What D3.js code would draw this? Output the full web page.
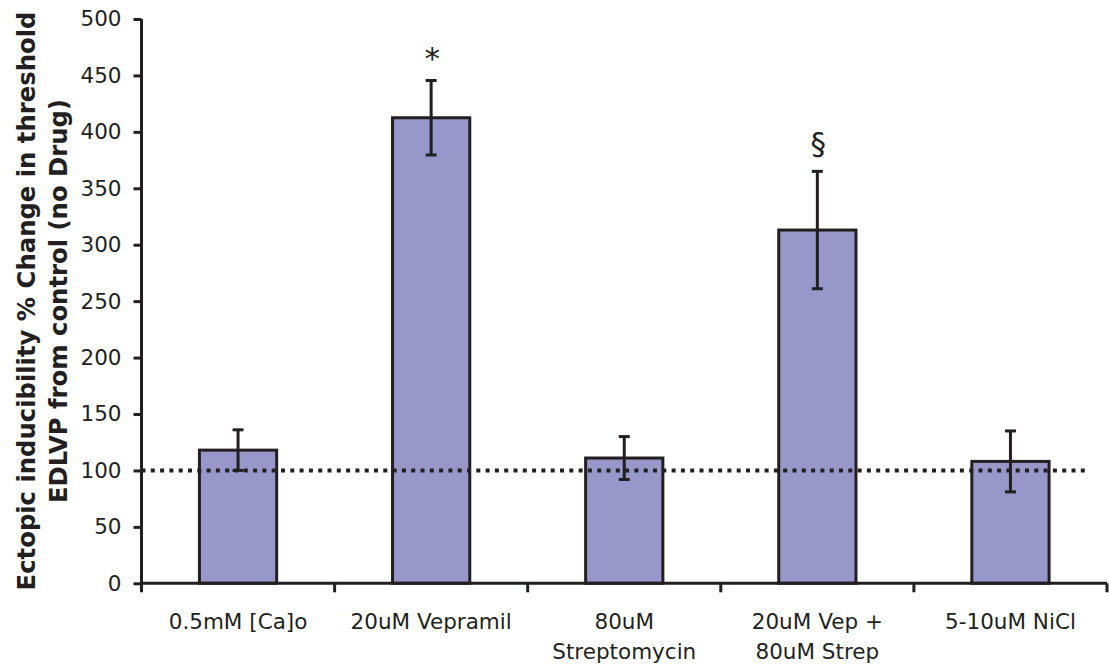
<!DOCTYPE html>
<html>
<head>
<meta charset="utf-8">
<script src="https://cdn.jsdelivr.net/npm/d3@7"></script>
<style>
  html, body { margin: 0; padding: 0; background: #fff; }
  svg { display: block; }
  text { font-family: "DejaVu Sans", Verdana, sans-serif; fill: #231f20; }
</style>
</head>
<body>
<svg id="chart" width="1109" height="664"></svg>
<script>
// Treatments (two-line labels are split on "\n")
const categories = [
  "0.5mM [Ca]o",
  "20uM Vepramil",
  "80uM\nStreptomycin",
  "20uM Vep +\n80uM Strep",
  "5-10uM NiCl"
];
// Mean % change in threshold vs. control
const means = [118, 412.5, 111, 313, 108];
// Error (± half-range of the whisker)
const errors = [18, 33, 19, 52, 27];
// Significance markers above the whiskers
const markers = ["", "*", "", "§", ""];
// Control reference level
const controlLevel = 100;
const yTicks = [0, 50, 100, 150, 200, 250, 300, 350, 400, 450, 500];
const yTitle = ["Ectopic inducibility % Change in threshold", "EDLVP from control (no Drug)"];

const ink = "#231f20";
const barFill = "#9797ca";

const svg = d3.select("#chart");

const x = d3.scaleBand()
  .domain(categories)
  .range([141.5, 1107])
  .paddingInner(0.6)
  .paddingOuter(0.3);

const y = d3.scaleLinear()
  .domain([0, 500])
  .range([583.3, 19]);

// Bars
svg.append("g")
  .selectAll("rect")
  .data(categories)
  .join("rect")
  .attr("x", d => x(d))
  .attr("y", (d, i) => y(means[i]))
  .attr("width", x.bandwidth())
  .attr("height", (d, i) => y(0) - y(means[i]))
  .attr("fill", barFill)
  .attr("stroke", ink)
  .attr("stroke-width", 3);

// Control reference line (dotted)
svg.append("line")
  .attr("x1", 141.5)
  .attr("x2", 1090)
  .attr("y1", y(controlLevel))
  .attr("y2", y(controlLevel))
  .attr("stroke", ink)
  .attr("stroke-width", 4)
  .attr("stroke-dasharray", "4,5.3");

// Error bars
const eg = svg.append("g").attr("stroke", ink).attr("stroke-width", 3);
categories.forEach((c, i) => {
  const cx = x(c) + x.bandwidth() / 2;
  const yt = y(means[i] + errors[i]);
  const yb = y(means[i] - errors[i]);
  eg.append("line").attr("x1", cx).attr("x2", cx).attr("y1", yt).attr("y2", yb);
  eg.append("line").attr("x1", cx - 5.5).attr("x2", cx + 5.5).attr("y1", yt).attr("y2", yt);
  eg.append("line").attr("x1", cx - 5.5).attr("x2", cx + 5.5).attr("y1", yb).attr("y2", yb);
});

// Significance markers
svg.append("g")
  .selectAll("text")
  .data(categories)
  .join("text")
  .attr("x", d => x(d) + x.bandwidth() / 2 + 1)
  .attr("y", (d, i) => y(means[i] + errors[i]) - (markers[i] === "*" ? 12 : 17))
  .attr("text-anchor", "middle")
  .attr("font-size", 31)
  .text((d, i) => markers[i]);

// Y axis
const yAxis = svg.append("g")
  .attr("transform", "translate(141.5,0)")
  .call(d3.axisLeft(y).tickValues(yTicks).tickSize(8).tickPadding(12));
yAxis.select(".domain").attr("stroke", ink).attr("stroke-width", 3).attr("d", `M0,${y(0) + 8}V${y(500)}`);
yAxis.selectAll(".tick line").attr("stroke", ink).attr("stroke-width", 3);
yAxis.selectAll(".tick text")
  .attr("font-size", 21.5)
  .attr("font-family", "DejaVu Sans, Verdana, sans-serif")
  .attr("fill", ink);

// X axis: line with ticks at category boundaries
const xg = svg.append("g");
xg.append("line")
  .attr("x1", 141.5).attr("x2", 1107)
  .attr("y1", y(0)).attr("y2", y(0))
  .attr("stroke", ink).attr("stroke-width", 3);
const step = x.step();
const bounds = categories.map(c => x(c) - x.paddingInner() * step / 2)
  .concat([x(categories[categories.length - 1]) + x.bandwidth() + x.paddingInner() * step / 2]);
xg.selectAll("line.tick")
  .data(bounds)
  .join("line")
  .attr("class", "tick")
  .attr("x1", d => d).attr("x2", d => d)
  .attr("y1", y(0)).attr("y2", y(0) + 9)
  .attr("stroke", ink).attr("stroke-width", 3);

// Category labels
categories.forEach(c => {
  const cx = x(c) + x.bandwidth() / 2;
  const t = xg.append("text")
    .attr("x", cx)
    .attr("y", 629)
    .attr("text-anchor", "middle")
    .attr("font-size", 21.5);
  c.split("\n").forEach((line, k) => {
    t.append("tspan").attr("x", cx).attr("dy", k === 0 ? 0 : 30).text(line);
  });
});

// Y axis title (two lines, rotated)
[35, 67].forEach((bx, k) => {
  svg.append("text")
    .attr("transform", `translate(${bx},301) rotate(-90)`)
    .attr("text-anchor", "middle")
    .attr("font-size", 24.3)
    .attr("font-weight", "bold")
    .text(yTitle[k]);
});
</script>
</body>
</html>
